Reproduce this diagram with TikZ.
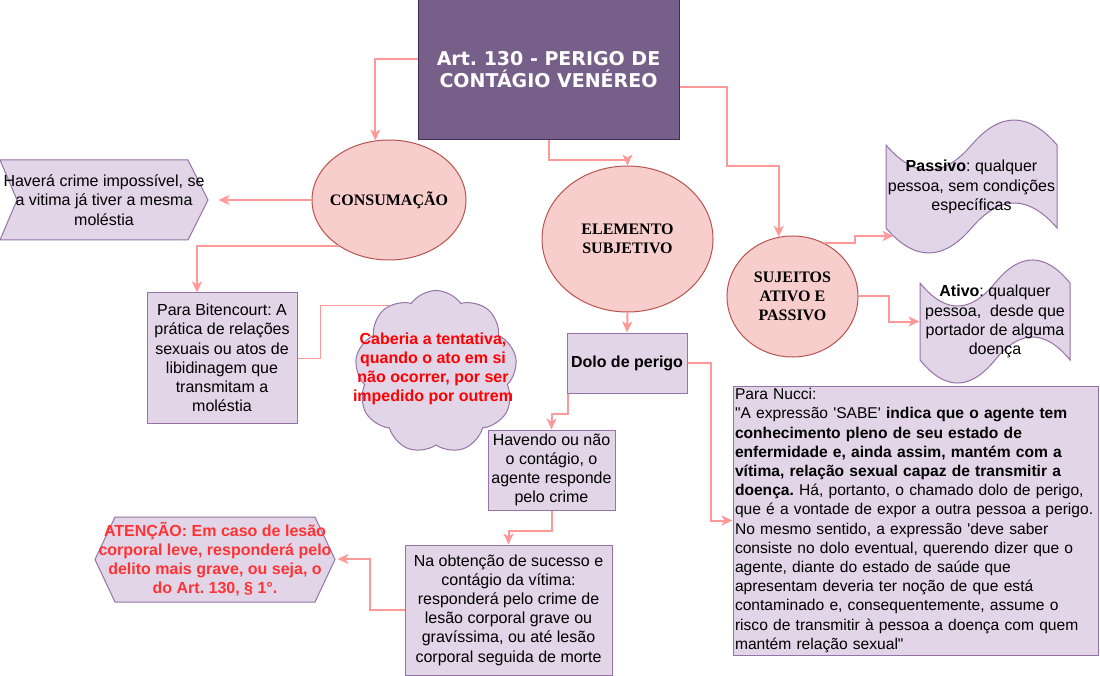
\documentclass[tikz,border=0pt]{standalone}
\usepackage{fontspec}
\setmainfont{Liberation Sans}
\newfontfamily\timesfont{Liberation Serif}
\newfontfamily\titlefont{DejaVu Sans}
\usetikzlibrary{shapes.geometric,shapes.symbols,arrows.meta}
\definecolor{titlefill}{HTML}{76608A}
\definecolor{titleline}{HTML}{432D57}
\definecolor{ellipsefill}{HTML}{F8CECC}
\definecolor{ellipseline}{HTML}{B85450}
\definecolor{boxfill}{HTML}{E1D5E7}
\definecolor{boxline}{HTML}{9673A6}
\definecolor{linkcolor}{HTML}{FF9999}
\definecolor{alertred}{HTML}{FF3333}
\newcommand{\dq}{\textquotedbl}
\newcommand{\sq}{\textquotesingle}
\frenchspacing
\begin{document}
\begin{tikzpicture}[x=1pt, y=-1pt, line width=1pt,
	every node/.style={font=\fontsize{16}{19.2}\selectfont, align=center, inner sep=0pt},
	purplebox/.style={rectangle, draw=boxline, fill=boxfill},
	bubble/.style={ellipse, draw=ellipseline, fill=ellipsefill, font=\timesfont\bfseries\fontsize{16}{19.2}\selectfont},
	shapeline/.style={draw=boxline, fill=boxfill},
	link/.style={draw=linkcolor, line width=2pt, -{Stealth[length=11pt, width=10pt, inset=3pt]}},
	thinlink/.style={draw=linkcolor, line width=1pt}]
	\path[fill=white] (0,0) rectangle (1100,676);
	\useasboundingbox (0,0) rectangle (1100,676);
	\draw[shapeline] (0,160) -- (188,160) -- (208,200) -- (188,240) -- (0,240) -- (17,200) -- cycle;
	\draw[shapeline] (95,559.5) -- (115,517) -- (315,517) -- (335,559.5) -- (315,602) -- (115,602) -- cycle;
	\draw[shapeline] (886,145) .. controls (914.5,178.3) and (943,178.3) .. (971.5,145) .. controls (1000,111.7) and (1028.5,111.7) .. (1057,145) -- (1057,228) .. controls (1028.5,194.7) and (1000,194.7) .. (971.5,228) .. controls (943,261.3) and (914.5,261.3) .. (886,228) -- cycle;
	\draw[shapeline] (920,283) .. controls (945,313.7) and (970,313.7) .. (995,283) .. controls (1020,252.3) and (1045,252.3) .. (1070,283) -- (1070,360) .. controls (1045,329.3) and (1020,329.3) .. (995,360) .. controls (970,390.7) and (945,390.7) .. (920,360) -- cycle;
	\node[rectangle, draw=titleline, fill=titlefill, minimum width=261pt, minimum height=140pt, text=white, font=\titlefont\bfseries\fontsize{19}{22}\selectfont] (title) at (548.5,70) {Art. 130 - PERIGO DE\\CONTÁGIO VENÉREO};
	\node[bubble, minimum width=154pt, minimum height=120pt, inner xsep=-15pt] (consumacao) at (389,200) {CONSUMAÇÃO};
	\node[bubble, minimum width=171pt, minimum height=146pt] (elemento) at (627.5,239) {ELEMENTO\\SUBJETIVO};
	\node[bubble, minimum width=131pt, minimum height=121pt] (sujeitos) at (792.5,296.5) {SUJEITOS\\ATIVO E\\PASSIVO};
	\node[minimum width=208pt, minimum height=80pt] (impossivel) at (104,200) {Haverá crime impossível, se\\a vitima já tiver a mesma\\moléstia};
	\node[purplebox, minimum width=150pt, minimum height=130pt] (bitencourt) at (222,358) {Para Bitencourt: A\\prática de relações\\sexuais ou atos de\\libidinagem que\\transmitam a\\moléstia};
	\node[cloud, cloud puffs=9, cloud puff arc=110, cloud ignores aspect, draw=boxline, fill=boxfill, minimum width=162pt, minimum height=163pt] (tentativa) at (436,372) {};
	\node[text=red, font=\bfseries\fontsize{16}{19.2}\selectfont] (tentativaText) at (433,369) {Caberia a tentativa,\\quando o ato em si\\não ocorrer, por ser\\impedido por outrem};
	\node[purplebox, minimum width=120pt, minimum height=60pt, font=\bfseries\fontsize{16}{19.2}\selectfont] (dolo) at (627,363) {Dolo de perigo};
	\node[purplebox, minimum width=127pt, minimum height=80pt] (havendo) at (551.5,470) {Havendo ou não\\o contágio, o\\agente responde\\pelo crime};
	\node[purplebox, minimum width=207pt, minimum height=130pt] (obtencao) at (508.5,610) {Na obtenção de sucesso e\\contágio da vítima:\\responderá pelo crime de\\lesão corporal grave ou\\gravíssima, ou até lesão\\corporal seguida de morte};
	\node[minimum width=240pt, minimum height=85pt, text=alertred, font=\bfseries\fontsize{16}{19.2}\selectfont] (atencao) at (215,559) {ATENÇÃO: Em caso de lesão\\corporal leve, responderá pelo\\delito mais grave, ou seja, o\\do Art. 130, § 1°.};
	\node[minimum width=171pt, minimum height=83pt] (passivo) at (971.5,187) {\textbf{Passivo}: qualquer\\pessoa, sem condições\\específicas};
	\node[minimum width=150pt, minimum height=77pt] (ativo) at (995,321.5) {\textbf{Ativo}: qualquer\\pessoa,~ desde que\\portador de alguma\\doença};
	\node[purplebox, minimum width=365pt, minimum height=269pt, text width=361pt, align=left, inner xsep=2pt, font=\fontsize{15.6}{19.2}\selectfont] (nucci) at (915.5,520.5) {Para Nucci:\\\dq A expressão \sq SABE\sq{} \textbf{indica que o agente tem}\\\textbf{conhecimento pleno de seu estado de}\\\textbf{enfermidade e, ainda assim, mantém com a}\\\textbf{vítima, relação sexual capaz de transmitir a}\\\textbf{doença.} Há, portanto, o chamado dolo de perigo,\\\mbox{que é a vontade de expor a outra pessoa a perigo.}\\No mesmo sentido, a expressão \sq deve saber\\consiste no dolo eventual, querendo dizer que o\\agente, diante do estado de saúde que\\apresentam deveria ter noção de que está\\contaminado e, consequentemente, assume o\\risco de transmitir à pessoa a doença com quem\\mantém relação sexual\dq};
	\coordinate (bendSujeitos) at (727,166);
	\draw[link] ([yshift=11pt]title.west) -| (consumacao.103);
	\draw[link] (title.south) -- ++(0,20) -| (elemento.north);
	\draw[link] ([yshift=-17pt]title.east) -| (bendSujeitos) -| (sujeitos.103);
	\draw[link, shorten >=10pt] (consumacao.west) -- (impossivel.east);
	\draw[link] (consumacao.223) -| ([xshift=-25pt]bitencourt.north);
	\draw[thinlink] (bitencourt.east) -- ++(23,0) |- (tentativa.125);
	\draw[link] (elemento.south) -- (dolo.north);
	\draw[link] ([xshift=1pt]dolo.south west) -- ++(0,20) -| (havendo.north);
	\draw[link] (dolo.east) -- ++(23,0) |- (nucci.west);
	\draw[link] (havendo.south) -- ++(0,20) -| (obtencao.north);
	\draw[link, shorten >=2pt] (obtencao.west) -- ++(-35,0) |- (atencao.east);
	\draw[link] (sujeitos.60) -- ++(31,0) |- ([xshift=8pt, yshift=-7pt]passivo.south west);
	\draw[link] (sujeitos.east) -- ++(30,0) |- (ativo.west);
\end{tikzpicture}
\end{document}
